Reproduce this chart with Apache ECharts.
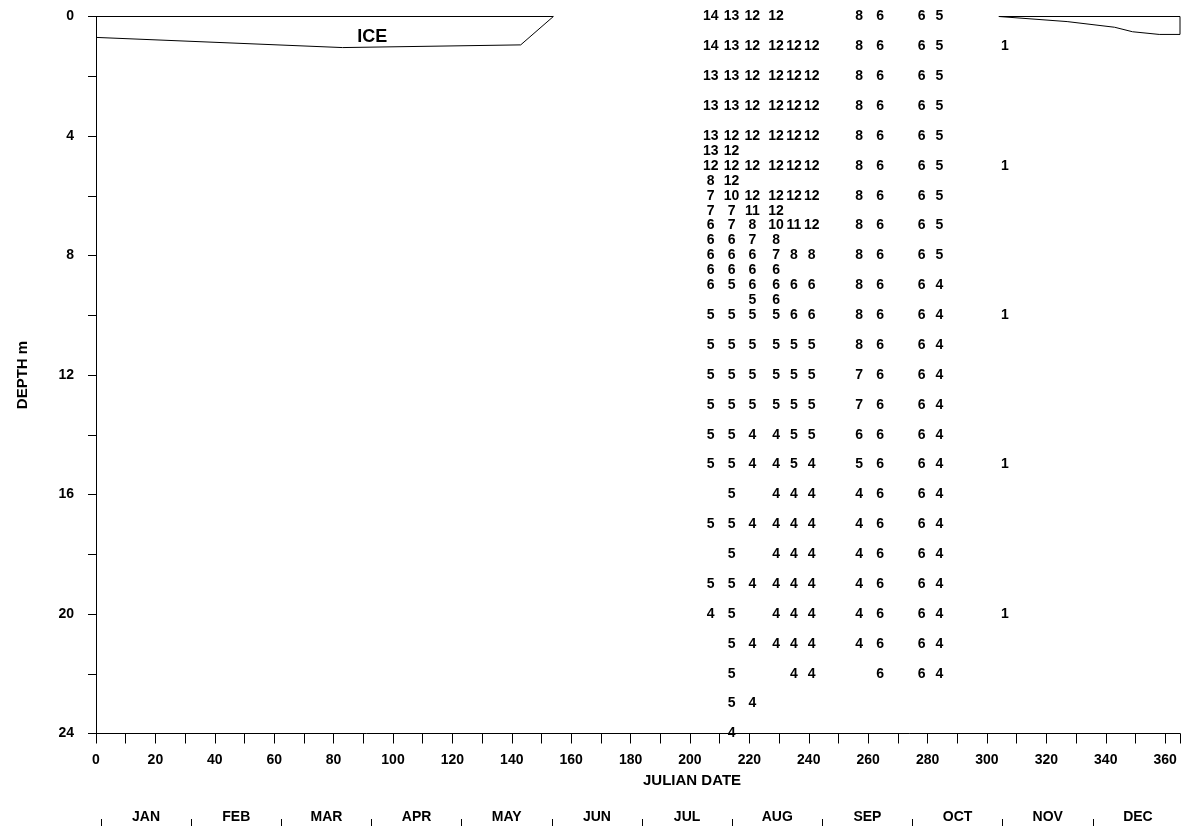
<!DOCTYPE html>
<html>
<head>
<meta charset="utf-8">
<script src="https://cdn.jsdelivr.net/npm/echarts@6/dist/echarts.min.js"></script>
<style>
html,body{margin:0;padding:0;background:#fff;}
#chart{width:1183px;height:826px;}
</style>
</head>
<body>
<div id="chart"></div>
<script>
const _ = null;
// sampling dates (Julian day) of each column of temperature readings
const sampleDays = [207, 214, 221, 229, 235, 241, 257, 264, 278, 284, 306];
// depth levels (m) matching each entry of the temperature columns
const depthLevels = [0,1,2,3,4,4.5,5,5.5,6,6.5,7,7.5,8,8.5,9,9.5,10,11,12,13,14,15,16,17,18,19,20,21,22,23,24];
// temperature (°C) readings per sampling date
const tempDay207 = [14,14,13,13,13,13,12,8,7,7,6,6,6,6,6,_,5,5,5,5,5,5,_,5,_,5,4,_,_,_,_];
const tempDay214 = [13,13,13,13,12,12,12,12,10,7,7,6,6,6,5,_,5,5,5,5,5,5,5,5,5,5,5,5,5,5,4];
const tempDay221 = [12,12,12,12,12,_,12,_,12,11,8,7,6,6,6,5,5,5,5,5,4,4,_,4,_,4,_,4,_,4,_];
const tempDay229 = [12,12,12,12,12,_,12,_,12,12,10,8,7,6,6,6,5,5,5,5,4,4,4,4,4,4,4,4,_,_,_];
const tempDay235 = [_,12,12,12,12,_,12,_,12,_,11,_,8,_,6,_,6,5,5,5,5,5,4,4,4,4,4,4,4,_,_];
const tempDay241 = [_,12,12,12,12,_,12,_,12,_,12,_,8,_,6,_,6,5,5,5,5,4,4,4,4,4,4,4,4,_,_];
const tempDay257 = [8,8,8,8,8,_,8,_,8,_,8,_,8,_,8,_,8,8,7,7,6,5,4,4,4,4,4,4,_,_,_];
const tempDay264 = [6,6,6,6,6,_,6,_,6,_,6,_,6,_,6,_,6,6,6,6,6,6,6,6,6,6,6,6,6,_,_];
const tempDay278 = [6,6,6,6,6,_,6,_,6,_,6,_,6,_,6,_,6,6,6,6,6,6,6,6,6,6,6,6,6,_,_];
const tempDay284 = [5,5,5,5,5,_,5,_,5,_,5,_,5,_,4,_,4,4,4,4,4,4,4,4,4,4,4,4,4,_,_];
const tempDay306 = [_,1,_,_,_,_,1,_,_,_,_,_,_,_,_,_,1,_,_,_,_,1,_,_,_,_,1,_,_,_,_];
const tempColumns = [tempDay207,tempDay214,tempDay221,tempDay229,tempDay235,tempDay241,tempDay257,tempDay264,tempDay278,tempDay284,tempDay306];

// ice cover outlines
const iceSpringDays   = [0, 154, 143, 83, 0];
const iceSpringDepths = [0, 0, 0.95, 1.04, 0.70];
const iceFallDays     = [304, 365, 365, 358, 349, 343, 327, 304];
const iceFallDepths   = [0, 0, 0.6, 0.6, 0.51, 0.36, 0.17, 0];
const iceLabelDay = 93;
const iceLabelDepth = 0.68;

// axis labels
const monthLabels = ['JAN','FEB','MAR','APR','MAY','JUN','JUL','AUG','SEP','OCT','NOV','DEC'];
const xTickLabels = [0,20,40,60,80,100,120,140,160,180,200,220,240,260,280,300,320,340,360];
const yTickLabels = [0,4,8,12,16,20,24];

const FONT = "'Liberation Sans', Arial, Helvetica, sans-serif";

const tempData = [];
tempColumns.forEach((col, i) => {
  col.forEach((v, j) => {
    if (v !== null) tempData.push([sampleDays[i], depthLevels[j], v]);
  });
});
const springIce = iceSpringDays.map((d, i) => [d, iceSpringDepths[i]]);
const fallIce = iceFallDays.map((d, i) => [d, iceFallDepths[i]]);

const chart = echarts.init(document.getElementById('chart'), null, {renderer: 'canvas'});
const option = {
  animation: false,
  backgroundColor: '#fff',
  textStyle: {fontFamily: FONT},
  grid: [
    {left: 96, right: 3, top: 16.5, bottom: 92.5},
    {left: 101, width: 1087, top: 790, height: 36}
  ],
  xAxis: [
    {
      type: 'value', gridIndex: 0, min: 0, max: 365, interval: 10, position: 'bottom',
      axisLine: {show: true, onZero: false, lineStyle: {color: '#000', width: 1}},
      axisTick: {show: true, length: 10, lineStyle: {color: '#000', width: 1}},
      splitLine: {show: false},
      axisLabel: {
        margin: 20, color: '#000', fontSize: 14, fontWeight: 'bold', fontFamily: FONT,
        formatter: v => xTickLabels.includes(v) ? String(v) : ''
      }
    },
    {
      type: 'category', gridIndex: 1, data: monthLabels, position: 'bottom',
      boundaryGap: true,
      axisLine: {show: false, onZero: false},
      axisTick: {show: true, inside: true, length: 7, lineStyle: {color: '#000', width: 1}},
      axisLabel: {inside: true, margin: 2, color: '#000', fontSize: 14, fontWeight: 'bold', fontFamily: FONT},
      splitLine: {show: false}
    }
  ],
  yAxis: [
    {
      type: 'value', gridIndex: 0, min: 0, max: 24, interval: 2, inverse: true,
      name: 'DEPTH m', nameLocation: 'middle', nameGap: 66, nameRotate: 90,
      nameTextStyle: {color: '#000', fontSize: 15, fontWeight: 'bold', fontFamily: FONT},
      axisLine: {show: true, onZero: false, lineStyle: {color: '#000', width: 1}},
      axisTick: {show: true, length: 8, lineStyle: {color: '#000', width: 1}},
      splitLine: {show: false},
      axisLabel: {
        margin: 22, color: '#000', fontSize: 14, fontWeight: 'bold', fontFamily: FONT,
        formatter: v => yTickLabels.includes(v) ? String(v) : ''
      }
    },
    {type: 'value', gridIndex: 1, show: false}
  ],
  graphic: [
    {
      type: 'text', left: 643, top: 773,
      style: {text: 'JULIAN DATE', fill: '#000', font: "bold 15px " + FONT}
    }
  ],
  series: [
    {
      type: 'line', xAxisIndex: 0, yAxisIndex: 0, data: springIce,
      showSymbol: false, symbol: 'none', clip: false,
      lineStyle: {color: '#000', width: 1}
    },
    {
      type: 'line', xAxisIndex: 0, yAxisIndex: 0, data: fallIce,
      showSymbol: false, symbol: 'none', clip: false,
      lineStyle: {color: '#000', width: 1}
    },
    {
      type: 'scatter', xAxisIndex: 0, yAxisIndex: 0,
      data: [[iceLabelDay, iceLabelDepth]], symbolSize: 0,
      itemStyle: {opacity: 1},
      label: {show: true, position: 'inside', formatter: 'ICE', color: '#000', opacity: 1, fontSize: 18, fontWeight: 'bold', fontFamily: FONT}
    },
    {
      type: 'scatter', xAxisIndex: 0, yAxisIndex: 0,
      data: tempData, symbolSize: 0, clip: false,
      itemStyle: {opacity: 1},
      label: {
        show: true, position: 'inside', color: '#000', opacity: 1, fontSize: 14, fontWeight: 'bold', fontFamily: FONT,
        formatter: p => String(p.value[2])
      },
      emphasis: {disabled: true}
    }
  ]
};
chart.setOption(option);
</script>
</body>
</html>
